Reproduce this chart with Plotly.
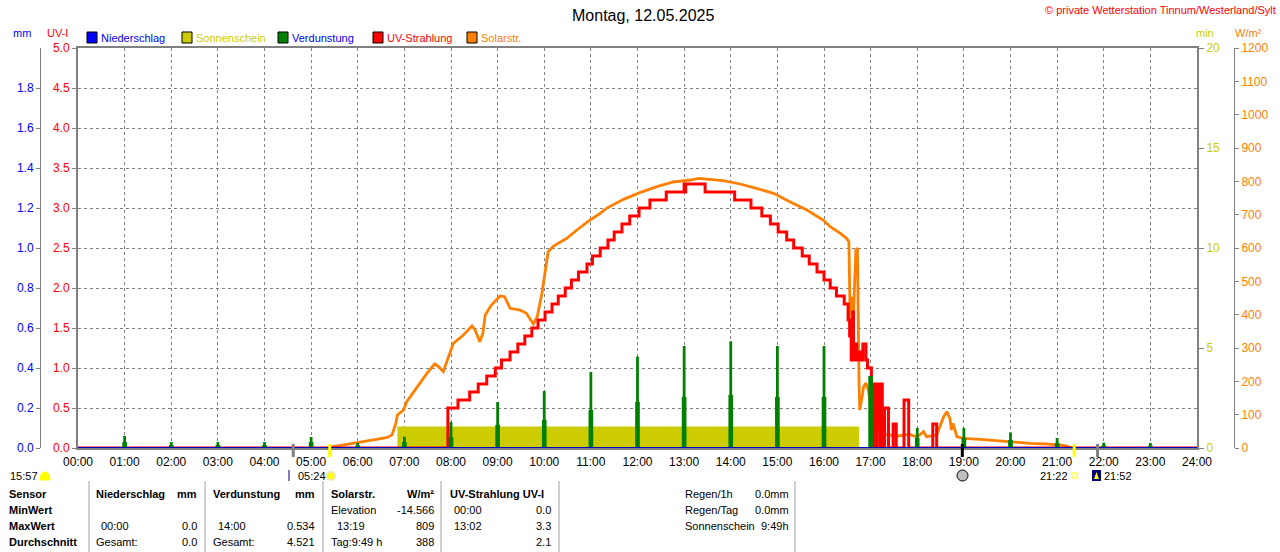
import plotly.graph_objects as go

W, H = 1280, 552

# ---------------- data ----------------
hour_labels = ["00:00", "01:00", "02:00", "03:00", "04:00", "05:00", "06:00", "07:00",
               "08:00", "09:00", "10:00", "11:00", "12:00", "13:00", "14:00", "15:00",
               "16:00", "17:00", "18:00", "19:00", "20:00", "21:00", "22:00", "23:00", "24:00"]

# UV-Strahlung (UV-I), step values
uv_time = ["00:00", "07:56", "08:09", "08:24", "08:35", "08:46", "08:57", "09:05", "09:16", "09:26",
           "09:35", "09:44", "09:52", "10:01", "10:10", "10:18", "10:27", "10:35", "10:44", "10:55",
           "11:02", "11:12", "11:22", "11:30", "11:40", "11:50", "12:02", "12:16", "12:37", "13:00",
           "13:01", "13:02", "13:27", "14:05", "14:26", "14:40", "14:51", "15:01", "15:12", "15:21",
           "15:32", "15:41", "15:51", "16:00", "16:08", "16:16", "16:26", "16:31", "16:33", "16:35",
           "16:37", "16:38", "16:40", "16:42", "16:44", "16:47", "16:50", "16:54", "16:56", "17:01",
           "17:04", "17:05", "17:06", "17:08", "17:09", "17:10", "17:12", "17:13", "17:15", "17:18",
           "17:23", "17:29", "17:33", "17:43", "17:49", "18:20", "18:25", "24:00"]
uv_index = [0.0, 0.5, 0.6, 0.7, 0.8, 0.9, 1.0, 1.1, 1.2, 1.3,
            1.4, 1.5, 1.6, 1.7, 1.8, 1.9, 2.0, 2.1, 2.2, 2.3,
            2.4, 2.5, 2.6, 2.7, 2.8, 2.9, 3.0, 3.1, 3.2, 3.3,
            3.2, 3.3, 3.2, 3.1, 3.0, 2.9, 2.8, 2.7, 2.6, 2.5,
            2.4, 2.3, 2.2, 2.1, 2.0, 1.9, 1.8, 1.6, 1.4, 1.1,
            1.7, 1.1, 1.3, 1.1, 1.2, 1.1, 1.3, 1.1, 1.0, 0.8,
            0.0, 0.8, 0.0, 0.8, 0.3, 0.8, 0.0, 0.8, 0.0, 0.5,
            0.0, 0.3, 0.0, 0.6, 0.0, 0.3, 0.0, 0.0]

# Solarstrahlung W/m2
solar_time = ["05:24", "05:28", "05:46", "06:12", "06:37", "06:44", "06:49", "06:51", "06:59", "07:03",
              "07:14", "07:29", "07:39", "07:44", "07:50", "07:57", "08:03", "08:16", "08:27", "08:31",
              "08:37", "08:41", "08:44", "08:52", "09:03", "09:09", "09:16", "09:29", "09:37", "09:46",
              "09:51", "09:57", "10:01", "10:05", "10:12", "10:29", "10:42", "10:59", "11:12", "11:20",
              "11:42", "12:03", "12:25", "12:46", "13:08", "13:19", "13:50", "14:12", "14:33", "14:55",
              "15:16", "15:38", "15:59", "16:08", "16:21", "16:29", "16:32", "16:33", "16:34", "16:36",
              "16:38", "16:41", "16:43", "16:45", "16:46", "16:49", "16:51", "16:54", "16:57", "17:01",
              "17:04", "17:08", "17:12", "17:20", "17:35", "17:50", "18:00", "18:08", "18:12", "18:25",
              "18:34", "18:38", "18:42", "18:44", "18:46", "18:51", "18:59", "19:21", "19:42", "20:04",
              "20:25", "20:47", "21:08", "21:14", "21:19"]
solar_wm2 = [0, 4, 11, 22, 31, 39, 74, 99, 114, 139,
             174, 224, 252, 244, 229, 274, 314, 339, 366, 354,
             319, 344, 399, 429, 456, 454, 419, 414, 404, 372,
             394, 464, 534, 589, 606, 629, 654, 684, 704, 719,
             746, 766, 784, 798, 804, 809, 802, 792, 779, 764,
             739, 714, 684, 664, 644, 629, 619, 469, 344, 454,
             404, 594, 600, 204, 114, 154, 184, 195, 174, 114,
             54, 74, 44, 40, 36, 41, 33, 49, 34, 39,
             94, 109, 89, 54, 74, 34, 29, 26, 22, 19,
             14, 12, 8, 4, 0]

# Verdunstung mm (hourly)
verd_time = ["01:00", "02:00", "03:00", "04:00", "05:00", "06:00", "07:00", "08:00", "09:00", "10:00",
             "11:00", "12:00", "13:00", "14:00", "15:00", "16:00", "17:00", "18:00", "19:00", "20:00",
             "21:00", "22:00", "23:00"]
verd_peak = [0.06, 0.03, 0.03, 0.03, 0.055, 0.026, 0.056, 0.13, 0.23, 0.285,
             0.38, 0.457, 0.51, 0.534, 0.51, 0.51, 0.36, 0.10, 0.10, 0.077,
             0.05, 0.027, 0.025]
verd_base = [0.03, 0.015, 0.015, 0.015, 0.03, 0.013, 0.03, 0.055, 0.115, 0.14,
             0.19, 0.23, 0.255, 0.265, 0.255, 0.255, 0.36, 0.05, 0.05, 0.04,
             0.025, 0.013, 0.012]

# Sonnenschein min
sun_period = ["06:51", "16:45"]
sun_min = [1.07, 1.07]

# Niederschlag mm
rain_time = ["00:00", "24:00"]
rain_mm = [0.0, 0.0]

# Daemmerung / Sonne / Mond
event_time = ["04:37", "05:24", "18:58", "21:22", "21:52"]
event_color = ["#808080", "#FFFF00", "#000000", "#FFFF00", "#808080"]

C_BLUE = "#0000FF"
C_YEL = "#CCCC00"
C_GREEN = "#008000"
C_RED = "#FF0000"
C_ORANGE = "#FF8000"
C_GRID = "#808080"
FONT = "Liberation Sans"


def hrs(t):
    h, m = t.split(":")
    return int(h) + int(m) / 60.0


def px(x):
    return x / W


def py(y):
    return 1 - y / H


fig = go.Figure()

fig.add_trace(go.Scatter(x=[hrs(t) for t in sun_period], y=sun_min, yaxis="y",
                         mode="lines", line=dict(width=0, shape="hv", color=C_YEL),
                         fill="tozeroy", fillcolor=C_YEL, name="Sonnenschein"))
fig.add_trace(go.Scatter(x=[hrs(t) for t in solar_time], y=solar_wm2, yaxis="y2",
                         mode="lines", line=dict(width=2.8, color=C_ORANGE), name="Solarstr."))
fig.add_trace(go.Scatter(x=[hrs(t) for t in uv_time], y=uv_index, yaxis="y3",
                         mode="lines", line=dict(width=3, color=C_RED, shape="hv"), name="UV-Strahlung"))
fig.add_trace(go.Bar(x=[hrs(t) for t in verd_time], y=verd_base, yaxis="y4", width=0.1,
                     marker=dict(color=C_GREEN, line=dict(width=0)), name="Verdunstung"))
fig.add_trace(go.Bar(x=[hrs(t) for t in verd_time], y=verd_peak, yaxis="y4", width=0.06,
                     marker=dict(color=C_GREEN, line=dict(width=0)), name="Verdunstung"))
fig.add_trace(go.Scatter(x=[hrs(t) for t in rain_time], y=rain_mm, yaxis="y4",
                         mode="lines", line=dict(width=2, color="#0000C0"), name="Niederschlag"))

tf = dict(family=FONT, size=12)
fig.update_layout(
    width=W, height=H, autosize=False,
    margin=dict(l=0, r=0, t=0, b=0, pad=0),
    paper_bgcolor="white", plot_bgcolor="white",
    showlegend=False, barmode="overlay",
    font=dict(family=FONT, size=11, color="black"),
    xaxis=dict(domain=[px(78), px(1197)], range=[0, 24], tickvals=list(range(25)), ticktext=hour_labels,
               showgrid=True, gridcolor=C_GRID, griddash="3px,3px", gridwidth=1,
               showline=True, linecolor=C_GRID, linewidth=2, mirror=True, ticks="",
               zeroline=False, tickfont=dict(family=FONT, size=12, color="black"), layer="below traces",
               ticklabelstandoff=2, automargin=False),
    yaxis=dict(domain=[py(448), py(48)], range=[0, 20], side="right", anchor="x",
               tickvals=[0, 5, 10, 15, 20], ticktext=["0", "5", "10", "15", "20"],
               tickfont=dict(tf, color=C_YEL), showgrid=False, zeroline=False,
               showline=True, linecolor=C_GRID, linewidth=2, mirror=True,
               ticks="outside", ticklen=5, tickcolor=C_GRID, automargin=False),
    yaxis2=dict(overlaying="y", anchor="free", position=px(1234), side="right", range=[0, 1200],
                tickvals=[0, 100, 200, 300, 400, 500, 600, 700, 800, 900, 1000, 1100, 1200],
                tickfont=dict(tf, color=C_ORANGE), showgrid=False, zeroline=False,
                showline=True, linecolor=C_GRID, linewidth=1,
                ticks="outside", ticklen=4, tickcolor=C_GRID, automargin=False),
    yaxis3=dict(overlaying="y", anchor="x", side="left", range=[0, 5],
                tickvals=[0, 0.5, 1, 1.5, 2, 2.5, 3, 3.5, 4, 4.5, 5],
                ticktext=["0.0", "0.5", "1.0", "1.5", "2.0", "2.5", "3.0", "3.5", "4.0", "4.5", "5.0"],
                tickfont=dict(tf, color=C_RED), showgrid=True, gridcolor=C_GRID, griddash="3px,3px",
                gridwidth=1, zeroline=False, showline=False,
                ticks="outside", ticklen=5, tickcolor=C_GRID, automargin=False),
    yaxis4=dict(overlaying="y", anchor="free", position=px(40), side="left", range=[0, 2],
                tickvals=[0, 0.2, 0.4, 0.6, 0.8, 1.0, 1.2, 1.4, 1.6, 1.8],
                ticktext=["0.0", "0.2", "0.4", "0.6", "0.8", "1.0", "1.2", "1.4", "1.6", "1.8"],
                tickfont=dict(tf, color=C_BLUE), showgrid=False, zeroline=False,
                showline=True, linecolor=C_GRID, linewidth=1,
                ticks="outside", ticklen=4, tickcolor=C_GRID, automargin=False),
)

ann = []


def txt(x, y, s, color="black", size=11, anchor="left", bold=False):
    if bold:
        s = "<b>" + s + "</b>"
    ann.append(dict(x=px(x), y=py(y), xref="paper", yref="paper", text=s, showarrow=False,
                    xanchor=anchor, yanchor="middle", borderpad=0,
                    font=dict(family=FONT, size=size, color=color)))


# titles
txt(643, 15, "Montag, 12.05.2025", size=16, anchor="center")
txt(1277, 10, "© private Wetterstation Tinnum/Westerland/Sylt", color=C_RED, size=11, anchor="right")

# axis headers
txt(22, 33, "mm", color=C_BLUE, anchor="center")
txt(57, 33, "UV-I", color=C_RED, anchor="center")
txt(1205, 33, "min", color=C_YEL, anchor="center")
txt(1248, 33, "W/m²", color=C_ORANGE, anchor="center")

shapes = []

# legend
legend = [(87, "Niederschlag", C_BLUE, C_BLUE), (182, "Sonnenschein", C_YEL, C_YEL),
          (278, "Verdunstung", C_GREEN, C_BLUE), (373, "UV-Strahlung", C_RED, C_RED),
          (467, "Solarstr.", C_ORANGE, C_ORANGE)]
for lx, name, fill, tcol in legend:
    shapes.append(dict(type="rect", xref="paper", yref="paper", x0=px(lx), x1=px(lx + 10),
                       y0=py(43), y1=py(32), fillcolor=fill, line=dict(color="black", width=1)))
    txt(lx + 13, 38, name, color=tcol)

# sun / moon events below the axis
for t, c in zip(event_time, event_color):
    shapes.append(dict(type="line", xref="x", yref="paper", x0=hrs(t), x1=hrs(t),
                       y0=py(444), y1=py(457), line=dict(color=c, width=3)))

EY = 476
txt(9, EY, "15:57", size=11)
shapes.append(dict(type="path", xref="paper", yref="paper",
                   path="M %f,%f Q %f,%f %f,%f Q %f,%f %f,%f Z" % (
                       px(40), py(EY + 4), px(40), py(EY - 4), px(45), py(EY - 4),
                       px(50), py(EY - 4), px(50), py(EY + 4)),
                   fillcolor="#FFFF00", line=dict(color="#FFFF00", width=1)))
shapes.append(dict(type="line", xref="paper", yref="paper", x0=px(289), x1=px(289),
                   y0=py(EY - 6), y1=py(EY + 5), line=dict(color="#000080", width=1)))
txt(297, EY, "05:24", size=11)
shapes.append(dict(type="circle", xref="paper", yref="paper", x0=px(327), x1=px(335),
                   y0=py(EY + 4), y1=py(EY - 4), fillcolor="#FFFF00", line=dict(color="#F0E8A0", width=2)))
shapes.append(dict(type="circle", xref="paper", yref="paper", x0=px(957), x1=px(968),
                   y0=py(EY + 5), y1=py(EY - 6), fillcolor="#C0C0C0", line=dict(color="black", width=1)))
txt(1069, EY, "21:22", anchor="right", size=11)
shapes.append(dict(type="rect", xref="paper", yref="paper", x0=px(1072), x1=px(1077),
                   y0=py(EY + 2), y1=py(EY - 3), line=dict(color="#FFFF00", width=1)))
shapes.append(dict(type="rect", xref="paper", yref="paper", x0=px(1092), x1=px(1101),
                   y0=py(EY + 5), y1=py(EY - 6), fillcolor="#000080", line=dict(width=0)))
shapes.append(dict(type="path", xref="paper", yref="paper",
                   path="M %f,%f L %f,%f L %f,%f Z" % (
                       px(1094), py(EY + 3), px(1096.5), py(EY - 4), px(1099), py(EY + 3)),
                   fillcolor="#FFFF00", line=dict(width=0)))
txt(1103, EY, "21:52", size=11)

# statistics table
for sx in [89, 205, 323, 441, 559, 795]:
    shapes.append(dict(type="line", xref="paper", yref="paper", x0=px(sx), x1=px(sx),
                       y0=py(481), y1=py(552), line=dict(color="#A0A0A0", width=1)))

rows_y = [494, 510, 526, 542]
for label, ry in zip(["Sensor", "MinWert", "MaxWert", "Durchschnitt"], rows_y):
    txt(8, ry, label, bold=True)

txt(95, 494, "Niederschlag", bold=True)
txt(198, 494, "mm", bold=True, anchor="right")
txt(212, 494, "Verdunstung", bold=True)
txt(316, 494, "mm", bold=True, anchor="right")
txt(330, 494, "Solarstr.", bold=True)
txt(435, 494, "W/m²", bold=True, anchor="right")
txt(449, 494, "UV-Strahlung UV-I", bold=True)

cells = [
    (330, 510, "Elevation", "left"), (435, 510, "-14.566", "right"),
    (453, 510, "00:00", "left"), (552, 510, "0.0", "right"),
    (100, 526, "00:00", "left"), (198, 526, "0.0", "right"),
    (217, 526, "14:00", "left"), (316, 526, "0.534", "right"),
    (336, 526, "13:19", "left"), (435, 526, "809", "right"),
    (453, 526, "13:02", "left"), (552, 526, "3.3", "right"),
    (95, 542, "Gesamt:", "left"), (198, 542, "0.0", "right"),
    (212, 542, "Gesamt:", "left"), (316, 542, "4.521", "right"),
    (330, 542, "Tag:9:49 h", "left"), (435, 542, "388", "right"),
    (552, 542, "2.1", "right"),
    (684, 494, "Regen/1h", "left"), (790, 494, "0.0mm", "right"),
    (684, 510, "Regen/Tag", "left"), (790, 510, "0.0mm", "right"),
    (684, 526, "Sonnenschein", "left"), (790, 526, "9:49h", "right"),
]
for cx, cy, s, a in cells:
    txt(cx, cy, s, anchor=a)

fig.update_layout(annotations=ann, shapes=shapes)

fig.write_html("out.html", config={"displayModeBar": False},
               post_script="document.body.style.margin='0';")
